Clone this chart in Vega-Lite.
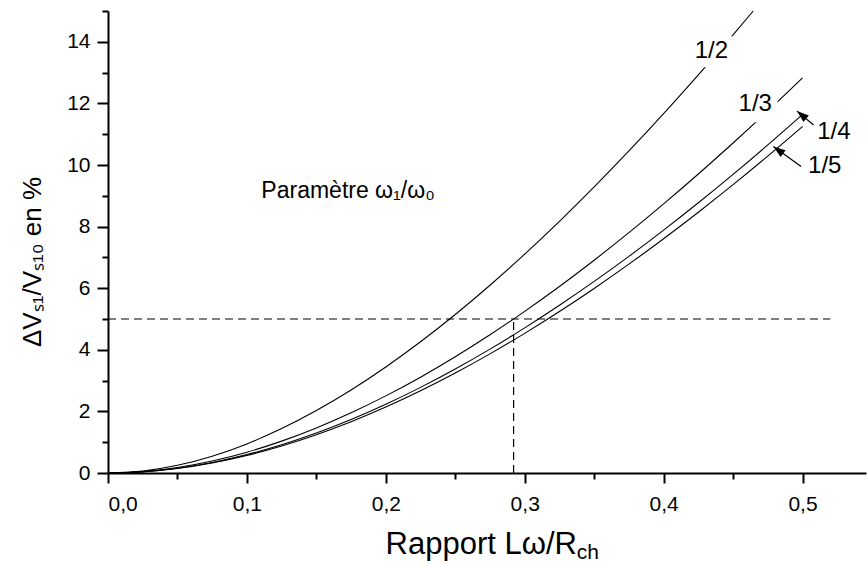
{
  "$schema": "https://vega.github.io/schema/vega-lite/v6.json",
  "width": 758,
  "height": 462,
  "autosize": {"type": "none"},
  "padding": {"left": 108, "top": 11, "right": 1, "bottom": 92},
  "datasets": {
    "curves": [
      {"s":"1/2","x":0,"y":0},{"s":"1/2","x":0.025,"y":0.064},{"s":"1/2","x":0.05,"y":0.249},{"s":"1/2","x":0.075,"y":0.545},{"s":"1/2","x":0.1,"y":0.945},{"s":"1/2","x":0.125,"y":1.441},{"s":"1/2","x":0.15,"y":2.027},{"s":"1/2","x":0.175,"y":2.695},{"s":"1/2","x":0.2,"y":3.442},{"s":"1/2","x":0.225,"y":4.26},{"s":"1/2","x":0.25,"y":5.146},{"s":"1/2","x":0.275,"y":6.096},{"s":"1/2","x":0.3,"y":7.105},{"s":"1/2","x":0.325,"y":8.17},{"s":"1/2","x":0.35,"y":9.288},{"s":"1/2","x":0.375,"y":10.456},{"s":"1/2","x":0.4,"y":11.67},{"s":"1/2","x":0.425,"y":12.928},{"s":"1/2","x":0.45,"y":14.228},{"s":"1/2","x":0.4645,"y":15.0},
      {"s":"1/3","x":0,"y":0},{"s":"1/3","x":0.025,"y":0.045},{"s":"1/3","x":0.05,"y":0.176},{"s":"1/3","x":0.075,"y":0.388},{"s":"1/3","x":0.1,"y":0.675},{"s":"1/3","x":0.125,"y":1.035},{"s":"1/3","x":0.15,"y":1.462},{"s":"1/3","x":0.175,"y":1.953},{"s":"1/3","x":0.2,"y":2.504},{"s":"1/3","x":0.225,"y":3.112},{"s":"1/3","x":0.25,"y":3.774},{"s":"1/3","x":0.275,"y":4.487},{"s":"1/3","x":0.3,"y":5.249},{"s":"1/3","x":0.325,"y":6.057},{"s":"1/3","x":0.35,"y":6.909},{"s":"1/3","x":0.375,"y":7.803},{"s":"1/3","x":0.4,"y":8.736},{"s":"1/3","x":0.425,"y":9.707},{"s":"1/3","x":0.45,"y":10.714},{"s":"1/3","x":0.475,"y":11.756},{"s":"1/3","x":0.5,"y":12.831},
      {"s":"1/4","x":0,"y":0},{"s":"1/4","x":0.025,"y":0.04},{"s":"1/4","x":0.05,"y":0.155},{"s":"1/4","x":0.075,"y":0.342},{"s":"1/4","x":0.1,"y":0.598},{"s":"1/4","x":0.125,"y":0.918},{"s":"1/4","x":0.15,"y":1.299},{"s":"1/4","x":0.175,"y":1.739},{"s":"1/4","x":0.2,"y":2.233},{"s":"1/4","x":0.225,"y":2.78},{"s":"1/4","x":0.25,"y":3.377},{"s":"1/4","x":0.275,"y":4.022},{"s":"1/4","x":0.3,"y":4.712},{"s":"1/4","x":0.325,"y":5.445},{"s":"1/4","x":0.35,"y":6.22},{"s":"1/4","x":0.375,"y":7.034},{"s":"1/4","x":0.4,"y":7.886},{"s":"1/4","x":0.425,"y":8.774},{"s":"1/4","x":0.45,"y":9.697},{"s":"1/4","x":0.475,"y":10.653},{"s":"1/4","x":0.5,"y":11.64},
      {"s":"1/5","x":0,"y":0},{"s":"1/5","x":0.025,"y":0.038},{"s":"1/5","x":0.05,"y":0.148},{"s":"1/5","x":0.075,"y":0.327},{"s":"1/5","x":0.1,"y":0.572},{"s":"1/5","x":0.125,"y":0.879},{"s":"1/5","x":0.15,"y":1.245},{"s":"1/5","x":0.175,"y":1.667},{"s":"1/5","x":0.2,"y":2.143},{"s":"1/5","x":0.225,"y":2.67},{"s":"1/5","x":0.25,"y":3.246},{"s":"1/5","x":0.275,"y":3.868},{"s":"1/5","x":0.3,"y":4.534},{"s":"1/5","x":0.325,"y":5.243},{"s":"1/5","x":0.35,"y":5.992},{"s":"1/5","x":0.375,"y":6.781},{"s":"1/5","x":0.4,"y":7.606},{"s":"1/5","x":0.425,"y":8.467},{"s":"1/5","x":0.45,"y":9.362},{"s":"1/5","x":0.475,"y":10.29},{"s":"1/5","x":0.5,"y":11.25}
    ],
    "refs": [
      {"x":0,"x2":0.52,"y":5,"y2":5},
      {"x":0.292,"x2":0.292,"y":0,"y2":5}
    ],
    "masks": [
      {"x":0.4202,"x2":0.4497,"y":13.17,"y2":14.18},
      {"x":0.4547,"x2":0.4821,"y":11.39,"y2":12.26}
    ],
    "labels": [
      {"t":"1/2","x":0.4344,"y":13.71},
      {"t":"1/3","x":0.466,"y":11.97},
      {"t":"1/4","x":0.5226,"y":11.07},
      {"t":"1/5","x":0.516,"y":9.96}
    ],
    "notes": [
      {"t":"Paramètre ω₁/ω₀","x":0.1104,"y":8.94}
    ],
    "arrows": [
      {"s":"1/4","x":0.508,"y":11.3,"x2":0.496,"y2":11.75},
      {"s":"1/5","x":0.499,"y":9.95,"x2":0.479,"y2":10.6}
    ],
    "sub": [
      {"t":"ch","x":0.3375,"y":-2.8}
    ]
  },
  "layer": [
    {
      "data": {"name": "curves"},
      "mark": {"type": "line", "color": "black", "strokeWidth": 1.1, "interpolate": "monotone"},
      "encoding": {
        "x": {"field": "x", "type": "quantitative",
          "scale": {"domain": [0, 0.5457], "nice": false, "zero": false},
          "axis": {"orient": "bottom", "values": [0, 0.1, 0.2, 0.3, 0.4, 0.5], "tickSize": 10, "labelPadding": 10,
            "labelExpr": "replace(format(datum.value, '.1f'), '.', ',')",
            "title": "Rapport Lω/R", "titleFontSize": 31, "titleFontWeight": "normal", "titleFont": "Liberation Sans",
            "titleAlign": "right", "titleX": 468.4, "titleY": 80.6, "titleBaseline": "alphabetic"}},
        "y": {"field": "y", "type": "quantitative",
          "scale": {"domain": [0, 15], "nice": false, "zero": false},
          "axis": {"orient": "left", "values": [0, 2, 4, 6, 8, 10, 12, 14], "tickSize": 11, "labelPadding": 7,
            "title": "ΔVₛ₁/Vₛ₁₀ en %", "titleFontSize": 26, "titleFontWeight": "normal", "titleFont": "Liberation Sans",
            "titleAngle": 270, "titleAlign": "center", "titleBaseline": "alphabetic", "titleX": -67.3, "titleY": 250.5}},
        "detail": {"field": "s"}
      }
    },
    {
      "data": {"name": "refs"},
      "mark": {"type": "rule", "color": "black", "strokeWidth": 1.2, "strokeDash": [8, 5]},
      "encoding": {
        "x": {"field": "x", "type": "quantitative",
          "scale": {"domain": [0, 0.5457], "nice": false, "zero": false},
          "axis": {"orient": "bottom", "values": [0.05, 0.15, 0.25, 0.35, 0.45], "tickSize": 6, "labels": false, "domain": false, "title": null}},
        "x2": {"field": "x2"},
        "y": {"field": "y", "type": "quantitative",
          "scale": {"domain": [0, 15], "nice": false, "zero": false},
          "axis": {"orient": "left", "values": [1, 3, 5, 7, 9, 11, 13, 15], "tickSize": 6, "labels": false, "domain": false, "title": null}},
        "y2": {"field": "y2"}
      }
    },
    {
      "data": {"name": "masks"},
      "mark": {"type": "rect", "color": "white"},
      "encoding": {
        "x": {"field": "x", "type": "quantitative", "scale": {"domain": [0, 0.5457], "nice": false, "zero": false}, "axis": null},
        "x2": {"field": "x2"},
        "y": {"field": "y", "type": "quantitative", "scale": {"domain": [0, 15], "nice": false, "zero": false}, "axis": null},
        "y2": {"field": "y2"}
      }
    },
    {
      "data": {"name": "labels"},
      "mark": {"type": "text", "font": "Liberation Sans", "fontSize": 24, "align": "center", "baseline": "middle", "color": "black"},
      "encoding": {
        "x": {"field": "x", "type": "quantitative", "scale": {"domain": [0, 0.5457], "nice": false, "zero": false}, "axis": null},
        "y": {"field": "y", "type": "quantitative", "scale": {"domain": [0, 15], "nice": false, "zero": false}, "axis": null},
        "text": {"field": "t"}
      }
    },
    {
      "data": {"name": "notes"},
      "mark": {"type": "text", "font": "Liberation Sans", "fontSize": 23, "align": "left", "baseline": "alphabetic", "color": "black"},
      "encoding": {
        "x": {"field": "x", "type": "quantitative", "scale": {"domain": [0, 0.5457], "nice": false, "zero": false}, "axis": null},
        "y": {"field": "y", "type": "quantitative", "scale": {"domain": [0, 15], "nice": false, "zero": false}, "axis": null},
        "text": {"field": "t"}
      }
    },
    {
      "data": {"name": "sub"},
      "mark": {"type": "text", "font": "Liberation Sans", "fontSize": 21, "align": "left", "baseline": "alphabetic", "color": "black"},
      "encoding": {
        "x": {"field": "x", "type": "quantitative", "scale": {"domain": [0, 0.5457], "nice": false, "zero": false}, "axis": null},
        "y": {"field": "y", "type": "quantitative", "scale": {"domain": [0, 15], "nice": false, "zero": false}, "axis": null},
        "text": {"field": "t"}
      }
    },
    {
      "data": {"name": "arrows"},
      "mark": {"type": "rule", "color": "black", "strokeWidth": 1.2},
      "encoding": {
        "x": {"field": "x", "type": "quantitative", "scale": {"domain": [0, 0.5457], "nice": false, "zero": false}, "axis": null},
        "x2": {"field": "x2"},
        "y": {"field": "y", "type": "quantitative", "scale": {"domain": [0, 15], "nice": false, "zero": false}, "axis": null},
        "y2": {"field": "y2"}
      }
    },
    {
      "data": {"name": "arrows"},
      "transform": [{"filter": "datum.s == '1/4'"}],
      "mark": {"type": "point", "shape": "M0,0L-0.35,1L0.35,1Z", "size": 576, "filled": true, "color": "black", "opacity": 1, "angle": 310},
      "encoding": {
        "x": {"field": "x2", "type": "quantitative", "scale": {"domain": [0, 0.5457], "nice": false, "zero": false}, "axis": null},
        "y": {"field": "y2", "type": "quantitative", "scale": {"domain": [0, 15], "nice": false, "zero": false}, "axis": null}
      }
    },
    {
      "data": {"name": "arrows"},
      "transform": [{"filter": "datum.s == '1/5'"}],
      "mark": {"type": "point", "shape": "M0,0L-0.35,1L0.35,1Z", "size": 576, "filled": true, "color": "black", "opacity": 1, "angle": 306},
      "encoding": {
        "x": {"field": "x2", "type": "quantitative", "scale": {"domain": [0, 0.5457], "nice": false, "zero": false}, "axis": null},
        "y": {"field": "y2", "type": "quantitative", "scale": {"domain": [0, 15], "nice": false, "zero": false}, "axis": null}
      }
    }
  ],
  "resolve": {"axis": {"x": "independent", "y": "independent"}},
  "config": {
    "view": {"stroke": null},
    "font": "Liberation Sans",
    "axis": {
      "grid": false,
      "domainColor": "black",
      "domainWidth": 2,
      "tickColor": "black",
      "tickWidth": 2,
      "labelColor": "black",
      "titleColor": "black",
      "labelFont": "Liberation Sans",
      "labelFontSize": 21
    }
  }
}
